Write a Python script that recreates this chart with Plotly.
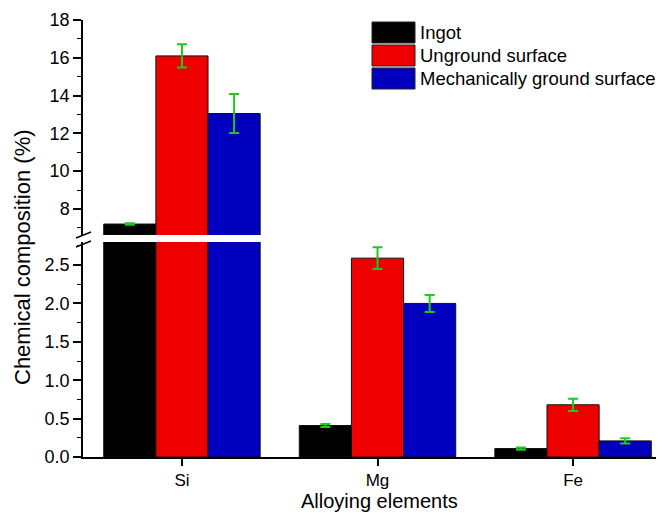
import plotly.graph_objects as go

categories = ["Si", "Mg", "Fe"]
series_names = ["Ingot", "Unground surface", "Mechanically ground surface"]
ingot = [7.2, 0.41, 0.11]
ingot_err = [0.04, 0.02, 0.015]
unground = [16.1, 2.59, 0.68]
unground_err = [0.62, 0.14, 0.08]
ground = [13.05, 2.0, 0.21]
ground_err = [1.03, 0.11, 0.035]
colors = ["#000000", "#EE0000", "#0000BE"]
err_color = "#1EC81E"

# the page body has an 8px margin, so the figure is drawn 8px in from the corner
OFF = 8
W, H = 664 - OFF, 513 - OFF
L, R, T = 83 - OFF, 0, 20 - OFF
B = H - (457 - OFF)
PW, PH = W - L - R, H - T - B

def px(x):  # reference-picture x pixel -> paper
    return (x - 83) / PW

def py(y):  # reference-picture y pixel -> paper
    return (457 - y) / PH

fig = go.Figure()
data = [(ingot, ingot_err), (unground, unground_err), (ground, ground_err)]
for i, (vals, errs) in enumerate(data):
    for xa, ya in (("x", "y"), ("x2", "y2")):
        fig.add_trace(go.Bar(
            x=categories, y=vals, name=series_names[i],
            xaxis=xa, yaxis=ya, offsetgroup=str(i),
            marker=dict(color=colors[i], line=dict(color="#111111", width=1)),
            error_y=dict(type="data", array=errs, visible=True,
                         color=err_color, thickness=2, width=5),
            showlegend=False,
        ))

font_family = "Liberation Sans, Arial, sans-serif"
tick_font = dict(family=font_family, size=18, color="#000000")
xtick_font = dict(family=font_family, size=17, color="#000000")

fig.update_layout(
    width=W, height=H,
    margin=dict(l=L, r=R, t=T, b=B, pad=0),
    paper_bgcolor="white", plot_bgcolor="white",
    barmode="group", bargap=0.2, bargroupgap=0,
    font=dict(family=font_family, size=18, color="#000000"),
    xaxis=dict(domain=[0, 1], anchor="y", range=[-0.506, 2.465],
               showline=True, linecolor="#000000", linewidth=2,
               ticks="outside", ticklen=7, tickwidth=1.5, tickcolor="#000000",
               tickfont=xtick_font, showgrid=False, zeroline=False),
    xaxis2=dict(domain=[0, 1], anchor="y2", range=[-0.506, 2.465],
                matches="x", showticklabels=False, showline=False,
                ticks="", showgrid=False, zeroline=False),
    yaxis=dict(domain=[0, 215 / PH], anchor="x", range=[0, 2.8],
               showline=True, linecolor="#000000", linewidth=1.5,
               tickmode="array", tickvals=[0, 0.5, 1.0, 1.5, 2.0, 2.5],
               ticktext=["0.0", "0.5", "1.0", "1.5", "2.0", "2.5"],
               ticks="outside", ticklen=8, tickwidth=1.5, tickcolor="#000000",
               minor=dict(tickvals=[0.25, 0.75, 1.25, 1.75, 2.25, 2.75],
                          ticks="outside", ticklen=4, tickwidth=1.2, tickcolor="#000000"),
               tickfont=tick_font, showgrid=False, zeroline=False),
    yaxis2=dict(domain=[(457 - 235) / PH, 1],
                anchor="x2", range=[6.62, 18],
                showline=True, linecolor="#000000", linewidth=1.5,
                tickmode="array", tickvals=[8, 10, 12, 14, 16, 18],
                ticks="outside", ticklen=8, tickwidth=1.5, tickcolor="#000000",
                minor=dict(tickvals=[7, 9, 11, 13, 15, 17],
                           ticks="outside", ticklen=4, tickwidth=1.2, tickcolor="#000000"),
                tickfont=tick_font, showgrid=False, zeroline=False),
    showlegend=False,
)

shapes = []
# axis break marks
for (x0, y0, x1, y1) in [(76, 238, 91, 232), (76, 247, 91, 241)]:
    shapes.append(dict(type="line", xref="paper", yref="paper",
                       x0=px(x0), y0=py(y0), x1=px(x1), y1=py(y1),
                       line=dict(color="#000000", width=1.5)))
# legend swatches
legend_rows = [(22, 43), (45, 66), (68, 89)]
for i, (ya, yb) in enumerate(legend_rows):
    shapes.append(dict(type="rect", xref="paper", yref="paper",
                       x0=px(372), x1=px(415), y0=py(yb), y1=py(ya),
                       fillcolor=colors[i], line=dict(color="#222222", width=1)))
fig.update_layout(shapes=shapes)

annotations = []
for i, (ya, yb) in enumerate(legend_rows):
    annotations.append(dict(text=series_names[i], xref="paper", yref="paper",
                            x=px(418), y=py((ya + yb) / 2), xanchor="left", yanchor="middle",
                            showarrow=False, font=dict(family=font_family, size=18.5, color="#000000")))
annotations.append(dict(text="Chemical composition (%)", xref="paper", yref="paper",
                        x=px(23), y=py(257), xanchor="center", yanchor="middle", textangle=-90,
                        showarrow=False, font=dict(family=font_family, size=22, color="#000000")))
annotations.append(dict(text="Alloying elements", xref="paper", yref="paper",
                        x=px(379), y=py(501), xanchor="center", yanchor="middle",
                        showarrow=False, font=dict(family=font_family, size=20, color="#000000")))
fig.update_layout(annotations=annotations)

fig.write_html("out.html")
